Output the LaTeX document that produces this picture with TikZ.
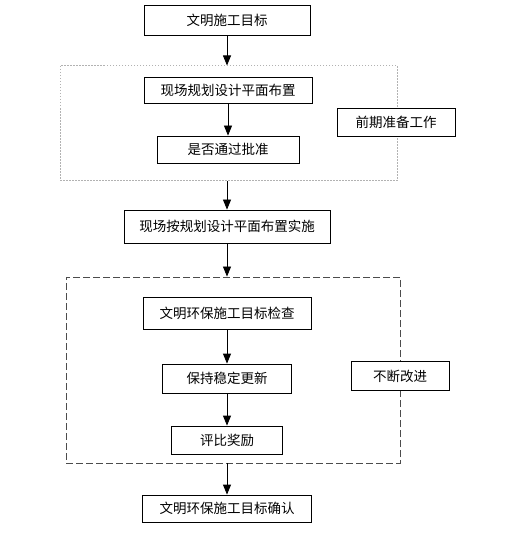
\documentclass[tikz,border=0pt]{standalone}
\usepackage{fontspec}
\setmainfont{Noto Sans CJK SC}
\usetikzlibrary{arrows.meta}

\begin{document}
\begin{tikzpicture}[x=1pt, y=-1pt, font=\fontsize{13.5}{14}\selectfont,
    box/.style={draw, rectangle, fill=white, inner sep=0pt, line width=0.8pt},
    flow/.style={-{Triangle[width=8pt,length=10pt]}, line width=0.8pt}]
        \useasboundingbox (0,0) rectangle (506,534);

        % frames
        \node[draw=gray!60, dash pattern=on 1.5pt off 1.5pt, line width=1pt, minimum width=337, minimum height=115] (prepframe) at (228.5,123.5) {};
        \node[draw=black!70, dash pattern=on 7pt off 3pt, line width=0.9pt, minimum width=334, minimum height=186] (checkframe) at (233,370) {};

        \node[box, minimum width=166, minimum height=30] (goal) at (227,20) {文明施工目标};
        \node[box, minimum width=168, minimum height=26] (plan) at (228,90) {现场规划设计平面布置};
        \node[box, minimum width=142, minimum height=27] (approve) at (228,149.5) {是否通过批准};
        \node[box, minimum width=118, minimum height=28] (prep) at (396,122) {前期准备工作};

        \node[box, minimum width=206, minimum height=33] (impl) at (227,226.5) {现场按规划设计平面布置实施};

        \node[box, minimum width=168, minimum height=32] (check) at (227,313) {文明环保施工目标检查};
        \node[box, minimum width=129, minimum height=29] (keep) at (227,378.5) {保持稳定更新};
        \node[box, minimum width=98, minimum height=29] (improve) at (400,376) {不断改进};
        \node[box, minimum width=111, minimum height=28] (award) at (227,440) {评比奖励};

        \node[box, minimum width=169, minimum height=27] (confirm) at (227,508.5) {文明环保施工目标确认};

        \draw[flow] (goal.south) -- (goal.south |- prepframe.north);
        \draw[flow] (plan) -- (approve);
        \draw[flow] (impl.north |- prepframe.south) -- (impl.north);
        \draw[flow] (impl.south) -- (impl.south |- checkframe.north);
        \draw[flow] (check) -- (keep);
        \draw[flow] (keep) -- (award);
        \draw[flow] (confirm.north |- checkframe.south) -- (confirm.north);
    \end{tikzpicture}
\end{document}
